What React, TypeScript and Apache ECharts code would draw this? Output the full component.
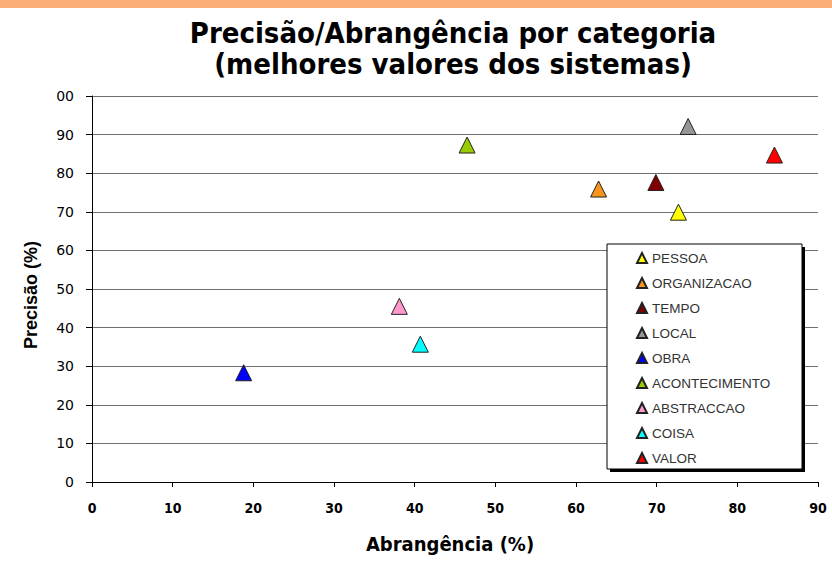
import React, { useEffect, useRef } from "react";
import * as echarts from "echarts";

const categories = ["PESSOA", "ORGANIZACAO", "TEMPO", "LOCAL", "OBRA", "ACONTECIMENTO", "ABSTRACCAO", "COISA", "VALOR"];
const abrangencia = [72.7, 62.8, 69.9, 73.9, 18.8, 46.5, 38.1, 40.7, 84.6];
const precisao = [69.9, 75.9, 77.6, 92.1, 28.3, 87.3, 45.5, 35.7, 84.7];
const colors = ["#FFFF00", "#F7941D", "#800000", "#969696", "#0000FF", "#99CC00", "#FF99CC", "#00FFFF", "#FF0000"];
const xTicks = { min: 0, max: 90, interval: 10 };
const yTicks = { min: 0, max: 100, interval: 10 };

export default function App() {
  const ref = useRef<HTMLDivElement>(null);
  useEffect(() => {
    if (!ref.current) return;
    const chart = echarts.init(ref.current, null, { renderer: "svg" });
    const series = categories.map((name, i) => ({
      name,
      type: "scatter",
      symbol: "triangle",
      symbolSize: [16, 16],
      data: [[abrangencia[i], precisao[i]]],
      itemStyle: { color: colors[i], borderColor: "#222", borderWidth: 1, opacity: 1 },
      emphasis: { disabled: true },
      z: 2,
    }));
    chart.setOption({
      animation: false,
      backgroundColor: "#ffffff",
      grid: { left: 92, right: 14, top: 96, bottom: 91 },
      xAxis: {
        type: "value",
        ...xTicks,
        name: "Abrangência (%)",
        nameLocation: "middle",
        nameGap: 52,
        nameTextStyle: { fontFamily: "DejaVu Sans Condensed", fontWeight: "bold", fontSize: 20, color: "#000", padding: [0, 10, 0, 0] },
        axisLine: { show: true, lineStyle: { color: "#000", width: 1 } },
        axisTick: { show: true, length: 5, lineStyle: { color: "#000" } },
        axisLabel: { margin: 19, fontFamily: "DejaVu Sans Condensed", fontWeight: "bold", fontSize: 14, color: "#000" },
        splitLine: { show: false },
      },
      yAxis: {
        type: "value",
        ...yTicks,
        name: "Precisão (%)",
        nameLocation: "middle",
        nameRotate: 90,
        nameGap: 52,
        nameTextStyle: { fontFamily: "Liberation Sans", fontWeight: "bold", fontSize: 18, color: "#000", padding: [0, 12, 0, 0] },
        axisLine: { show: true, lineStyle: { color: "#000", width: 1 } },
        axisTick: { show: true, length: 6, lineStyle: { color: "#000" } },
        axisLabel: {
          margin: 18,
          fontFamily: "DejaVu Sans",
          fontSize: 14,
          color: "#000",
          formatter: (v: number) => (v === 100 ? "00" : String(v)),
        },
        splitLine: { show: true, lineStyle: { color: "#707070", width: 1 } },
      },
      legend: {
        orient: "vertical",
        left: 636,
        top: 251,
        padding: 0,
        itemWidth: 10,
        itemHeight: 10,
        itemGap: 11,
        icon: "triangle",
        selectedMode: false,
        textStyle: { fontFamily: "Liberation Sans", fontSize: 13.5, color: "#333" },
        data: categories,
        z: 10,
      },
      graphic: [
        { type: "rect", z: 0, shape: { x: 0, y: 0, width: 832, height: 8 }, style: { fill: "#FBAE78" }, silent: true },
        {
          type: "text",
          z: 5,
          x: 453,
          y: 17,
          style: {
            text: "Precisão/Abrangência por categoria\n(melhores valores dos sistemas)",
            textAlign: "center",
            font: "bold 29px 'DejaVu Sans Condensed'",
            lineHeight: 31,
            fill: "#000",
          },
        },
        { type: "rect", z: 8, shape: { x: 610, y: 247, width: 195, height: 225 }, style: { fill: "#000" }, silent: true },
        { type: "rect", z: 9, shape: { x: 607, y: 244, width: 195, height: 225 }, style: { fill: "#fff", stroke: "#000", lineWidth: 1 }, silent: true },
      ],
      series,
    });
    return () => chart.dispose();
  }, []);
  return <div ref={ref} style={{ position: "fixed", left: 0, top: 0, width: 832, height: 573 }} />;
}
